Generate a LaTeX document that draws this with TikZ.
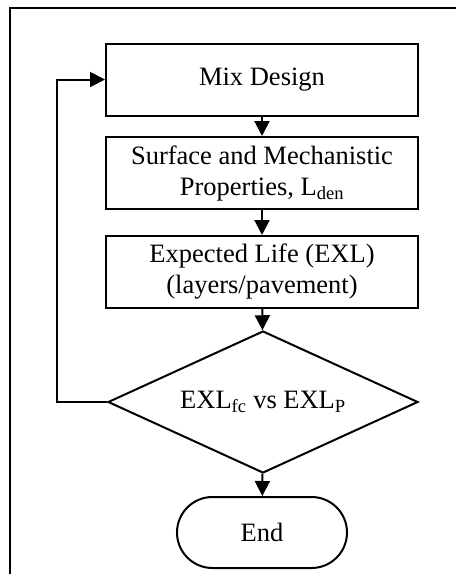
\documentclass[tikz,border=0pt]{standalone}
\usepackage{fontspec}
\setmainfont{Liberation Serif}
\usepackage{pgf,tikz}
\usetikzlibrary{calc,shapes,arrows.meta,positioning}

\begin{document}
\begin{tikzpicture}[x=1pt,y=-1pt]
  %% FLOWCHART

  \tikzstyle{every path}=[line width=2pt]
  \tikzstyle{every node}=[font=\fontsize{26.5}{31}\selectfont, align=center, inner sep=0pt]
  \tikzstyle{block}=[draw, rectangle, minimum width=312pt, minimum height=72pt]
  \tikzstyle{test}=[draw, diamond, aspect=2.18, minimum width=310pt, minimum height=142pt]
  \tikzstyle{stop}=[draw, rounded rectangle, minimum width=170pt, minimum height=71pt]
  \tikzstyle{flow}=[-{Triangle[width=15pt,length=15pt]}]

  \useasboundingbox (0,0) rectangle (456,574);
  % cadre
  \draw (10,574) -- (10,7.5) -- (456,7.5);

  % blocs
  \node[block] (mix) at (262,79.5) {Mix Design};
  \node[block] (prop) at (262,173) {Surface and Mechanistic\\Properties, L\textsubscript{den}};
  \node[block] (life) at (262,272) {Expected Life (EXL)\\(layers/pavement)};
  \node[test] (cmp) at (263,402) {EXL\textsubscript{fc} vs EXL\textsubscript{P}};
  \node[stop] (end) at (262,532.5) {End};

  \draw[flow] (mix) -- (prop);
  \draw[flow] (prop) -- (life);
  \draw[flow] (life) -- (cmp);
  \draw[flow] (cmp) -- (end);

  % retour
  \draw[flow] (cmp.west) -- ++(-50,0) |- (mix.west);
\end{tikzpicture}
\end{document}
